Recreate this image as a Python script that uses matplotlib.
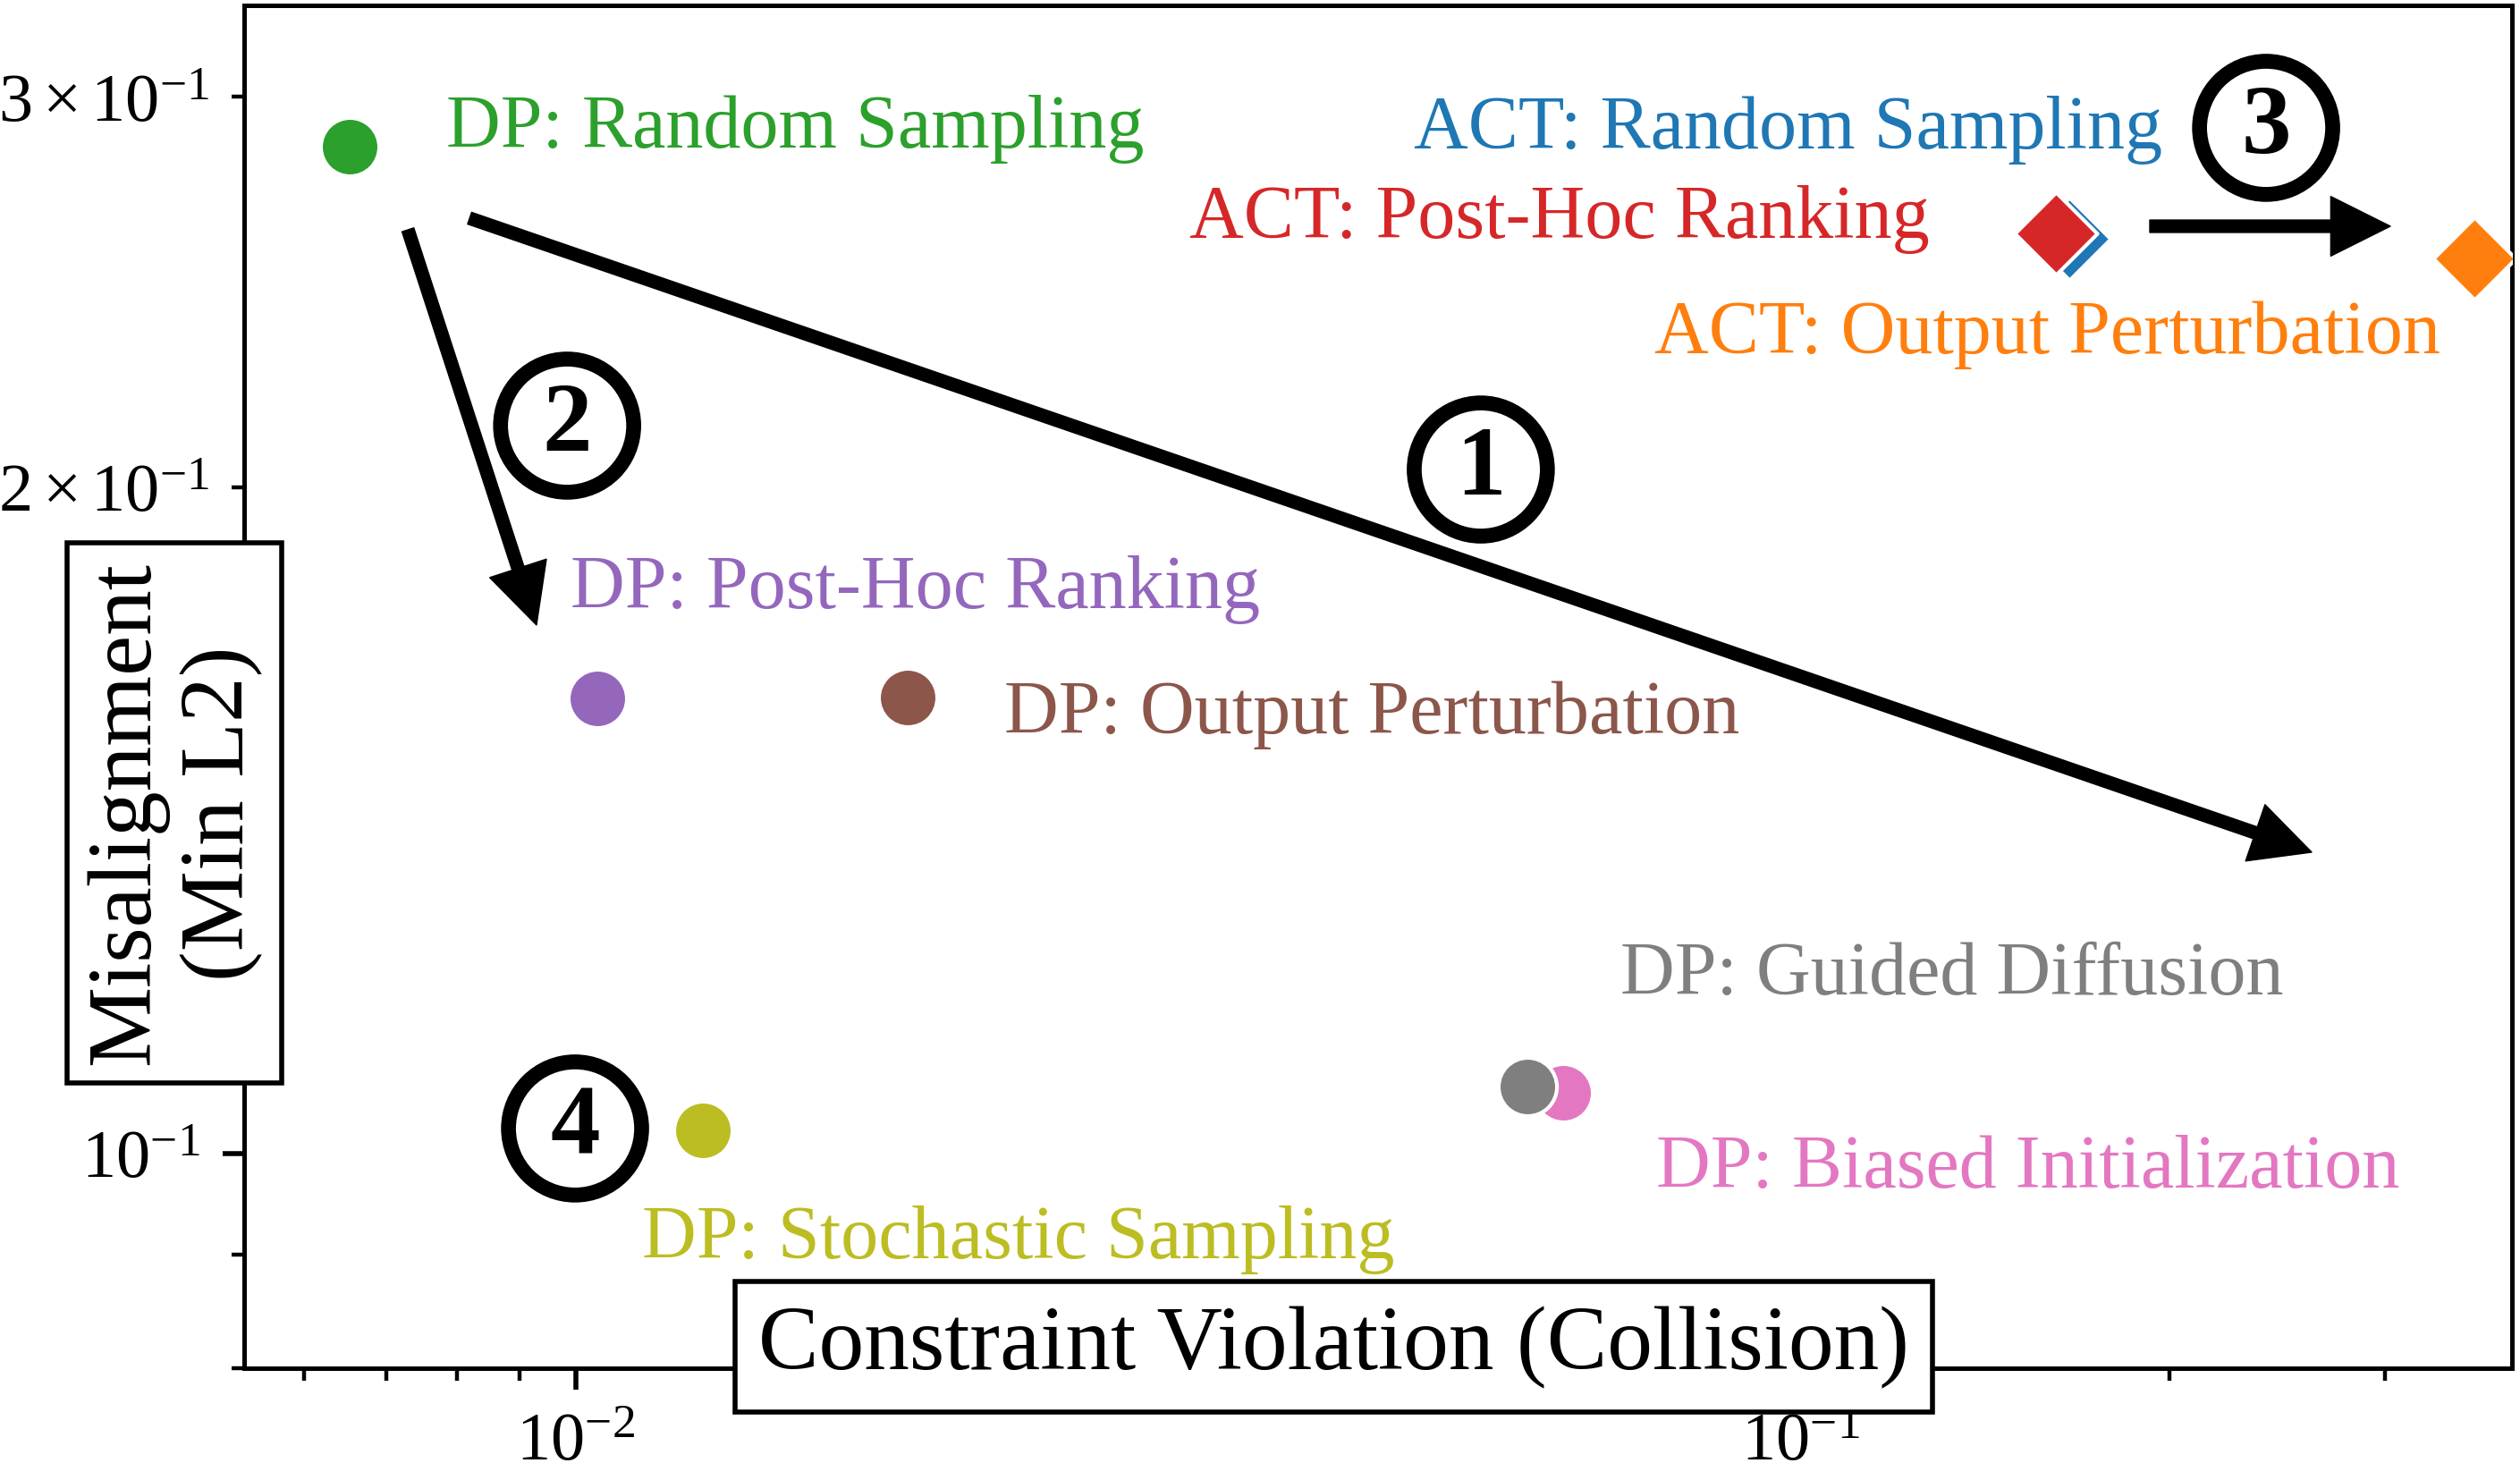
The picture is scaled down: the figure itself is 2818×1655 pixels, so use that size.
import numpy as np
import matplotlib.pyplot as plt

plt.rcParams['font.family'] = ['Liberation Serif', 'DejaVu Serif']
plt.rcParams['mathtext.fontset'] = 'stix'

# methods in plotting order (tab10 colour order)
methods = ['ACT: Random Sampling', 'ACT: Output Perturbation', 'DP: Random Sampling',
           'ACT: Post-Hoc Ranking', 'DP: Post-Hoc Ranking', 'DP: Output Perturbation',
           'DP: Biased Initialization', 'DP: Guided Diffusion', 'DP: Stochastic Sampling']
collision = [0.1659, 0.3548, 0.00654, 0.1617, 0.01041, 0.01867, 0.0640, 0.0598, 0.01270]
min_l2 = [0.2588, 0.2537, 0.2850, 0.2604, 0.1605, 0.1606, 0.1065, 0.1072, 0.1024]
markers = ['D', 'D', 'o', 'D', 'o', 'o', 'o', 'o', 'o']
colors = ['#1f77b4', '#ff7f0e', '#2ca02c', '#d62728', '#9467bd',
          '#8c564b', '#e377c2', '#7f7f7f', '#bcbd22']

# label placement relative to each point (points)
label_dx = [37.4, -13.7, 38.9, -51.0, -10.8, 38.9, 37.4, 37.4, -24.5]
label_dy = [36.7, -37.8, 0.0, -1.4, 36.7, -13.7, -37.8, 37.4, -51.0]
label_ha = ['right', 'right', 'left', 'right', 'left', 'left', 'left', 'left', 'left']

# arrows (axes fraction): start -> tip
arrows = [((0.0994, 0.8438), (0.9117, 0.3786)),
          ((0.0722, 0.8353), (0.1289, 0.5453)),
          ((0.8403, 0.8379), (0.9464, 0.8379))]
steps = ['1', '2', '3', '4']
step_pos = [(0.5453, 0.6594), (0.1424, 0.6916), (0.8916, 0.9101), (0.1459, 0.1759)]

fig = plt.figure(figsize=(14.09, 8.28), dpi=200)
ax = fig.add_axes([0.0969, 0.0755, 0.8999, 0.9203])

for i in range(len(methods)):
    ax.scatter(collision[i], min_l2[i], s=550, marker=markers[i], color=colors[i],
               edgecolors='white', linewidths=1.5, zorder=3)
    ax.annotate(methods[i], (collision[i], min_l2[i]), xytext=(label_dx[i], label_dy[i]),
                textcoords='offset points', ha=label_ha[i], va='baseline',
                fontsize=30.3, color=colors[i])

for start, tip in arrows:
    ax.annotate('', xy=tip, xytext=start, xycoords='axes fraction',
                textcoords='axes fraction',
                arrowprops=dict(facecolor='black', edgecolor='black', lw=0.5,
                                width=5, headwidth=24, headlength=24, shrink=0))

for s, (px, py) in zip(steps, step_pos):
    ax.text(px, py, s, transform=ax.transAxes, ha='center', va='center',
            fontsize=40, fontweight='bold',
            bbox=dict(boxstyle='circle,pad=0.22', fc='white', ec='black', lw=6))

ax.set_xscale('log')
ax.set_yscale('log')
ax.set_xlim(0.00536, 0.381)
ax.set_ylim(0.08, 0.33)

for sp in ax.spines.values():
    sp.set_linewidth(1.8)
ax.tick_params(which='major', length=8.6, width=2, labelsize=27.5)
ax.tick_params(which='minor', length=5, width=1.6, labelsize=27.5)
ax.tick_params(axis='x', which='both', pad=9)
ax.tick_params(axis='y', which='both', pad=9)

ax.set_xlabel('Constraint Violation (Collision)', fontsize=36.5, va='center',
              bbox=dict(boxstyle='square,pad=0.26', fc='white', ec='black', lw=2))
ax.xaxis.set_label_coords(0.4805, 0.0157)
ax.set_ylabel('Misalignment\n(Min L2)', fontsize=36.5, va='center', ha='center',
              bbox=dict(boxstyle='square,pad=0.2', fc='white', ec='black', lw=2))
ax.yaxis.set_label_coords(-0.0308, 0.4075)
ax.xaxis.set_zorder(3)
ax.yaxis.set_zorder(3)

fig.savefig('out.png', dpi=200)
